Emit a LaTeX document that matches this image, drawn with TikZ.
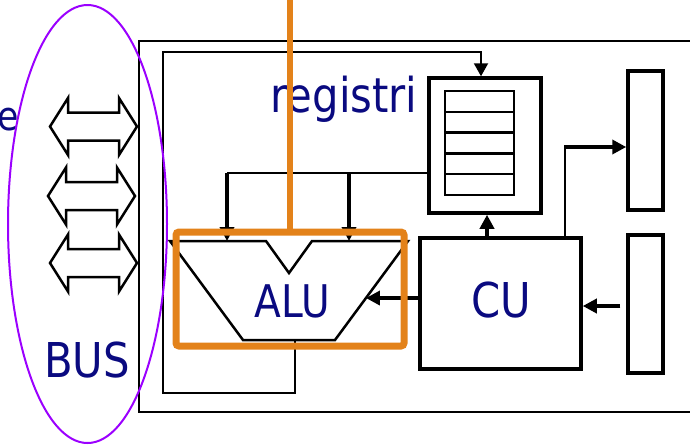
\documentclass[tikz,border=0pt]{standalone}
\usepackage{fontspec}
\usepackage{tikz}
\usetikzlibrary{positioning,arrows.meta,calc}
\newfontfamily\diagfont[FakeStretch=0.87]{DejaVu Sans}
\definecolor{labelblue}{HTML}{0A0A80}
\definecolor{focusorange}{HTML}{E3821A}
\definecolor{busviolet}{HTML}{9B00FF}

\begin{document}
\begin{tikzpicture}[
  x=1pt,y=-1pt,
  block/.style={draw=black,line width=3.5pt,inner sep=0pt},
  cell/.style={draw=black,line width=2.5pt,minimum width=69pt,minimum height=20.8pt,inner sep=0pt,outer sep=0pt},
  lbl/.style={text=labelblue,inner sep=0pt,font=\diagfont\fontsize{48}{50}\selectfont},
  wire/.style={line width=2pt,black},
  wirearr/.style={wire,-{Triangle[length=13pt,width=14pt]}},
  arr/.style={-{Triangle[length=14pt,width=14pt]},line width=4.5pt,black},
  hilite/.style={draw=focusorange,line width=7pt,rounded corners=3pt,inner sep=0pt},
  dblarrow/.pic={\draw[line width=2.5pt,line join=miter]
    (-43.5,0) -- (-25.5,-28.5) -- (-25.5,-14) -- (25.5,-14) -- (25.5,-28.5) -- (43.5,0)
    -- (25.5,28.5) -- (25.5,14) -- (-25.5,14) -- (-25.5,28.5) -- cycle;}
]
\useasboundingbox (0,0) rectangle (690,445);
\clip (0,0) rectangle (690,445);
% frame of the machine
\draw[line width=2.5pt] (720,41) -| (139,412) -- (720,412);
% bus
\pic at (93.5,126.5) {dblarrow};
\pic at (91.5,196) {dblarrow};
\pic at (93.5,263) {dblarrow};
% blocks
\node[block,minimum width=112pt,minimum height=135pt] (regs) at (485,145.5) {};
\node[cell] (c1) at (479.5,101.4) {};
\node[cell,below=0pt of c1] (c2) {};
\node[cell,below=0pt of c2] (c3) {};
\node[cell,below=0pt of c3] (c4) {};
\node[cell,below=0pt of c4] (c5) {};
\node[block,minimum width=161pt,minimum height=131pt] (cu) at (500.5,303.5) {};
\node[block,minimum width=35pt,minimum height=139pt] (bar1) at (645.5,140.5) {};
\node[block,minimum width=35pt,minimum height=138pt] (bar2) at (645.5,304) {};
% ALU outline
\coordinate (alu-tl) at (170,241);
\coordinate (alu-tr) at (408,241);
\coordinate (alu-bl) at (243,340);
\coordinate (alu-br) at (335,340);
\coordinate (alu-out) at (295,340);
\coordinate (alu-in) at ($(alu-tr)!0.576!(alu-br)$);
\draw[line width=2.5pt,line join=miter] (alu-tl) -- (266,241) -- (289,273) -- (312,241)
  -- (alu-tr) -- (alu-br) -- (alu-bl) -- cycle;
% connections
\coordinate (feedA) at (227,173);
\coordinate (feedB) at (349,173);
\coordinate (cuout) at (565,147);
\draw[wirearr] (alu-out) -- (295,393) -- (163,393) -- (163,52) -| ([xshift=-4pt]regs.north);
\draw[wire] (regs.west |- feedA) -- (feedA);
\draw[arr] (feedA) -- (feedA |- alu-tl);
\draw[arr] (feedB) -- (feedB |- alu-tl);
\draw[arr] (cu.west |- alu-in) -- (alu-in);
\draw[arr] ([xshift=2pt]regs.south |- cu.north) -- ([xshift=2pt]regs.south);
\draw[wire] (cuout |- cu.north) -- (cuout);
\draw[arr] ([xshift=-1pt]cuout) -- (cuout -| bar1.west);
\draw[arr] ([xshift=-6pt,yshift=-2pt]bar2.west) -- ([yshift=-2pt]bar2.west -| cu.east);
% labels
\node[lbl,anchor=base] (reglbl) at (344,112) {registri};
\node[lbl,anchor=base,font=\diagfont\fontsize{45}{47}\selectfont] (alulbl) at (292,317) {ALU};
\node[lbl,anchor=base] (culbl) at (501,317) {CU};
\node[lbl,anchor=base] (buslbl) at (87,377) {BUS};
\node[lbl,anchor=base east,font=\diagfont\fontsize{40}{42}\selectfont] (memlbl) at (19,130) {e};
% highlight and bus ring
\node[hilite,minimum width=228pt,minimum height=114pt] (focus) at (290,289) {};
\draw[focusorange,line width=5.5pt] (focus.north) -- (focus.north |- 0,-5);
\draw[busviolet,line width=2pt] (87.5,224) ellipse [x radius=79.5, y radius=219];
\end{tikzpicture}
\end{document}
